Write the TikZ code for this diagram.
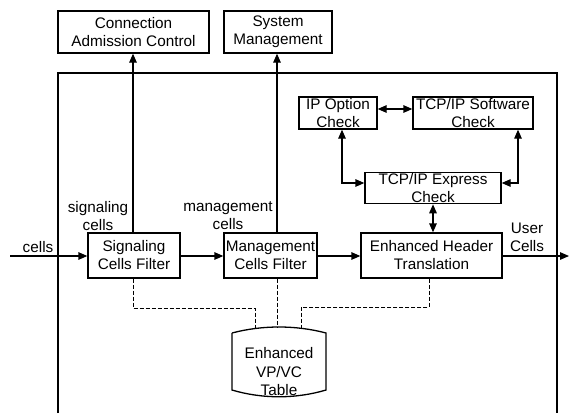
\documentclass[tikz,border=0pt]{standalone}
\usepackage{fontspec}
\setmainfont{Liberation Sans}
\usetikzlibrary{arrows.meta,calc}
\begin{document}
\begin{tikzpicture}[x=1pt,y=-1pt,
  line width=1.3pt,
  every node/.style={font=\fontsize{15.3}{18}\selectfont},
  blk/.style={draw,rectangle,align=center,inner sep=1pt},
  lbl/.style={align=center,inner sep=0pt},
  arr/.style={-{Triangle[length=9pt,width=7.5pt]}},
  darr/.style={{Triangle[length=9pt,width=7.5pt]}-{Triangle[length=9pt,width=7.5pt]}},
  dsh/.style={dash pattern=on 4pt off 2pt,line width=1pt}]
\useasboundingbox (0,0) rectangle (569,413);
% external boxes
\node[blk,minimum width=151pt,minimum height=42pt] (cac) at (133.5,32) {Connection\\Admission Control};
\node[blk,minimum width=108pt,minimum height=42pt] (sm) at (278,32) {System\\Management};
% frame
\coordinate (fbl) at (58,413);
\coordinate (ftl) at (58,73);
\coordinate (ftr) at (557,73);
\coordinate (fbr) at (557,413);
\draw (fbl) -- (ftl) -- (ftr) -- (fbr);
% inner boxes
\node[blk,minimum width=78pt,minimum height=32pt] (ipo) at (338,113) {IP Option\\Check};
\node[blk,minimum width=120pt,minimum height=32pt] (sw) at (473,113) {TCP/IP Software\\Check};
\node[blk,minimum width=136pt,minimum height=30pt] (ex) at (433,188) {TCP/IP Express\\Check};
\node[blk,minimum width=141pt,minimum height=45pt] (eh) at (431.5,255.5) {Enhanced Header\\Translation};
\node[blk,minimum width=92pt,minimum height=45pt] (sig) at (134,255.5) {Signaling\\Cells Filter};
\node[blk,minimum width=93pt,minimum height=45pt] (mg) at (270.5,255.5) {Management\\Cells Filter};
% labels
\node[lbl] (lcells) at (38,247) {cells};
\node[lbl] (lsig) at (98,216) {signaling\\cells};
\node[lbl] (lmg) at (228,216) {management\\cells};
\node[lbl] (luser) at (527,237) {User\\Cells};
% main flow
\coordinate (in) at (10,256);
\coordinate (out) at (569,256);
\draw[arr] (in) -- (in -| sig.west);
\draw[arr] (sig.east |- in) -- (mg.west |- in);
\draw[arr] (mg.east |- in) -- (eh.west |- in);
\draw[arr] (eh.east |- out) -- (out);
% up arrows
\draw[arr] (sig.north -| 133,0) -- (133,0 |- cac.south);
\draw[arr] (mg.north -| 277,0) -- (277,0 |- sm.south);
% TCP/IP checks
\draw[darr] (ipo.east |- 0,109) -- (sw.west |- 0,109);
\coordinate (c1) at (342,183);
\coordinate (c2) at (518,183);
\draw[darr] (ipo.south -| c1) -- (c1) -- (ex.west |- c1);
\draw[darr] (sw.south -| c2) -- (c2) -- (ex.east |- c2);
\draw[darr] (ex.south) -- (ex.south |- eh.north);
% table cylinder
\coordinate (tl) at (232,333);
\coordinate (tr) at (326,333);
\coordinate (bl) at (232,390);
\coordinate (br) at (326,390);
\draw (tl) -- (bl) .. controls (262,399) and (296,399) .. (br) -- (tr) .. controls (296,325) and (262,325) .. (tl);
\node[lbl,font=\fontsize{15.3}{18.5}\selectfont] (tbl) at (279,372) {Enhanced\\VP/VC\\Table};
% dashed links
\coordinate (d1) at (255,329);
\coordinate (d2) at (277,327);
\coordinate (d3) at (301,329);
\draw[dsh] (sig.south -| 133,0) -- (133,308) -- (255,308) -- (d1);
\draw[dsh] (mg.south -| d2) -- (d2);
\draw[dsh] (eh.south -| 429,0) -- (429,307) -- (301,307) -- (d3);
\end{tikzpicture}
\end{document}
